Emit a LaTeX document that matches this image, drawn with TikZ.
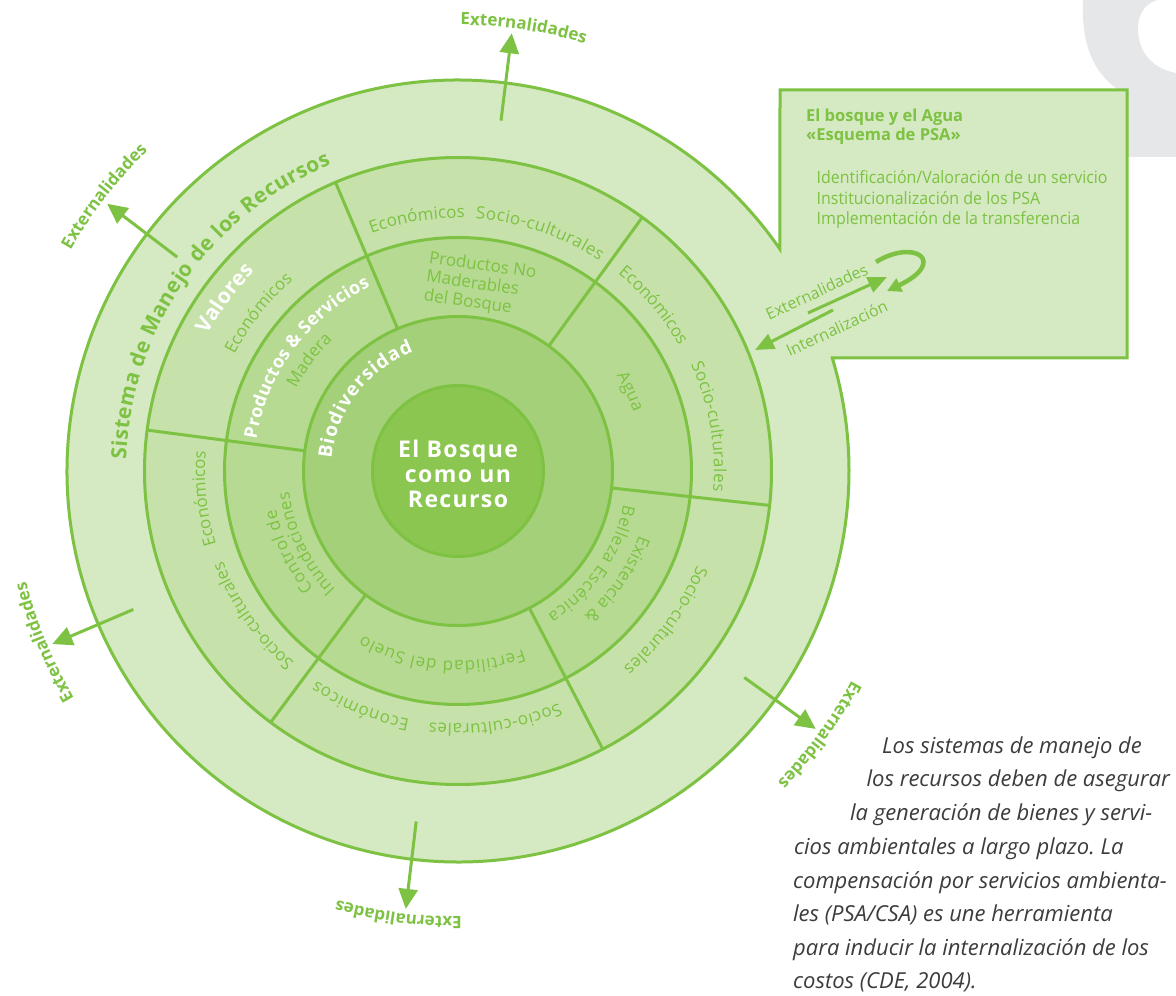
\documentclass[tikz,border=0pt]{standalone}
\usepackage{fontspec}
\setmainfont{Open Sans}
\newfontfamily\boxfont[FakeStretch=0.94]{Open Sans}
\usetikzlibrary{decorations.text,arrows.meta}
\definecolor{grn}{HTML}{7DC242}
\definecolor{band}{HTML}{D5E9C2}
\definecolor{ringB}{HTML}{C6E2AA}
\definecolor{ringC}{HTML}{B6DA92}
\definecolor{ringD}{HTML}{A4D07A}
\definecolor{core}{HTML}{8BC650}
\definecolor{greyshape}{HTML}{E6E7E8}
\definecolor{paratext}{HTML}{3C3C3C}
\frenchspacing
\newcommand\labR{\fontsize{17}{20}\selectfont\color{grn}}
\newcommand\labS{\fontsize{21}{24}\selectfont\bfseries\color{grn}}
\newcommand\labE{\fontsize{17}{20}\selectfont\bfseries\color{grn}}
\newcommand\labWa{\fontsize{21}{24}\selectfont\bfseries\color{white}}
\newcommand\labWb{\fontsize{18}{20}\selectfont\bfseries\color{white}}
\newcommand\labWc{\fontsize{19}{22}\selectfont\bfseries\color{white}}
\newcommand\coretext{\fontsize{23}{25}\selectfont\bfseries\addfontfeature{LetterSpace=6}}
\newcommand\boxtitle{\fontsize{16.5}{19}\selectfont\bfseries}
\newcommand\boxitem{\boxfont\fontsize{17}{20}\selectfont}
\newcommand\boxlab{\fontsize{16}{19}\selectfont}
\newcommand\parafont{\fontsize{22}{24}\selectfont\itshape\frenchspacing}
\newcommand\arclab[5]{\path[decorate,decoration={text along path,text={|#4|#5},text align=fit to path}] (#2:#1) arc[start angle=#2,end angle=#3,radius=#1];}
\tikzset{
  ringline/.style={draw=grn, line width=3pt},
  extarrow/.style={draw=grn, line width=3pt, -{Triangle[length=20pt,width=19pt]}},
  boxarrow/.style={draw=grn, line width=3pt, -{Triangle[length=19pt,width=16pt]}},
  para/.style={anchor=base west, inner sep=0, text=paratext, font=\parafont},
  boxtxt/.style={anchor=base west, inner sep=0, text=grn},
}
\begin{document}
\begin{tikzpicture}[x=1pt,y=1pt]
\useasboundingbox (-458,-525) rectangle (718,471);
\fill[white] (-458,-525) rectangle (718,471);
% grey letter shape, top right
\begin{scope}[x=1pt,y=-1pt,shift={(-458pt,471pt)}]
\fill[greyshape] (1083,0) .. controls (1081,45) and (1094,72) .. (1116,88) -- (1120,157) -- (1176,157) -- (1176,73) .. controls (1150,68) and (1137,50) .. (1138,25) .. controls (1139,12) and (1147,3) .. (1157,0) -- cycle;
\end{scope}
% outer band joined with the PSA box
\filldraw[fill=band, ringline] (34.56:391) arc[start angle=34.56,end angle=376.8,radius=391] -- (669,113) -- (669,381) -- (322,381) -- cycle;
\filldraw[fill=ringB, ringline] (0,0) circle[radius=313.5];
\filldraw[fill=ringC, ringline] (0,0) circle[radius=233.5];
\filldraw[fill=ringD, ringline] (0,0) circle[radius=154.5];
\filldraw[fill=core, ringline] (0,0) circle[radius=85.5];
\foreach \a in {113,54,-6.3,-62.5,233.3,172.5} \draw[ringline] (\a:154.5) -- (\a:313.5);
% externality arrows
\foreach \a/\n in {83/a,142.7/b,203.1/c,263.2/d,324.2/e}{
  \coordinate (es\n) at (\a:353);
  \coordinate (et\n) at (\a:441);
  \draw[extarrow] (es\n) -- (et\n);
}
% centre
\node[align=center, text=white, font=\coretext, inner sep=0] (core) at (0,-3) {El Bosque\\como un\\Recurso};
% outer band label
\arclab{332}{178}{112.5}{\labS}{Sistema de Manejo de los Recursos}
% ring 2
\arclab{253}{110}{88.5}{\labR}{Económicos}
\arclab{253}{86}{56}{\labR}{Socio-culturales}
\arclab{254}{51}{30}{\labR}{Económicos}
\arclab{256}{24.5}{-4.5}{\labR}{Socio-culturales}
\arclab{257}{-21.5}{-50}{\labR}{Socio-culturales}
\arclab{253}{293.5}{263.5}{\labR}{Socio-culturales}
\arclab{253}{259}{236}{\labR}{Económicos}
\arclab{252}{229.5}{201.5}{\labR}{Socio-culturales}
\arclab{253}{197}{175.5}{\labR}{Económicos}
\arclab{285}{151.5}{135.5}{\labWa}{Valores}
\arclab{252}{152.5}{131.5}{\labR}{Económicos}
% ring 3
\arclab{204}{171}{115.5}{\labWb}{Productos {\&} Servicios}
\arclab{181.5}{153}{134}{\labR}{Madera}
\arclab{185}{31}{18.5}{\labR}{Agua}
\arclab{192}{-19.5}{-49}{\labR}{Existencia {\&}}
\arclab{169}{-11.5}{-58}{\labR}{Belleza Escénica}
\arclab{190}{290}{240}{\labR}{Fertilidad del Suelo}
\arclab{186}{219}{192}{\labR}{Control de}
\arclab{170}{224}{187}{\labR}{Inundaciones}
\node[rotate=-8, align=left, inner sep=0, text=grn, font=\fontsize{17}{19}\selectfont] (pnm) at (22,186) {Productos No\\Maderables\\del Bosque};
% ring 4
\arclab{127}{174.5}{110.5}{\labWc}{Biodiversidad}
% externality labels
\arclab{446}{89.7}{73.7}{\labE}{Externalidades}
\arclab{446}{150.3}{134.3}{\labE}{Externalidades}
\arclab{446}{210.6}{194.6}{\labE}{Externalidades}
\arclab{446}{270.5}{254.5}{\labE}{Externalidades}
\arclab{446}{-28}{-44}{\labE}{Externalidades}
% pixel-based scope for box contents and paragraph
\begin{scope}[x=1pt,y=-1pt,shift={(-458pt,471pt)}]
\node[boxtxt, font=\boxtitle] (t1) at (806,122) {El bosque y el Agua};
\node[boxtxt, font=\boxtitle] (t2) at (806,141) {«Esquema de PSA»};
\node[boxtxt, font=\boxitem] (i1) at (816.5,184) {Identificación/Valoración de un servicio};
\node[boxtxt, font=\boxitem] (i2) at (816.5,204.5) {Institucionalización de los PSA};
\node[boxtxt, font=\boxitem] (i3) at (816.5,225) {Implementación de la transferencia};
\coordinate (ua1) at (808,313); \coordinate (ua2) at (887,277);
\coordinate (la1) at (833,310); \coordinate (la2) at (755,350);
\draw[boxarrow] (ua1) -- (ua2);
\draw[boxarrow] (la1) -- (la2);
\node[rotate=25, font=\boxlab, text=grn, inner sep=0] (ext) at (816.7,291.7) {Externalidades};
\node[rotate=25, font=\boxlab, text=grn, inner sep=0] (int) at (836.7,328.3) {Internalización};
\coordinate (lp1) at (876,262); \coordinate (lp2) at (887,291);
\draw[grn, line width=4.5pt, -{Triangle[length=14pt,width=14pt]}] (lp1) .. controls (915,238) and (948,262) .. (lp2);
\node[para] (p1) at (882,753) {Los sistemas de manejo de};
\node[para] (p2) at (866.5,786.5) {los recursos deben de asegurar};
\node[para] (p3) at (850,820) {la generación de bienes y servi-};
\node[para] (p4) at (794,854) {cios ambientales a largo plazo. La};
\node[para] (p5) at (793,888) {compensación por servicios ambienta-};
\node[para] (p6) at (793,921.5) {les (PSA/CSA) es une herramienta};
\node[para] (p7) at (793,955) {para inducir la internalización de los};
\node[para] (p8) at (793,988) {costos (CDE, 2004).};
\end{scope}
\end{tikzpicture}
\end{document}
